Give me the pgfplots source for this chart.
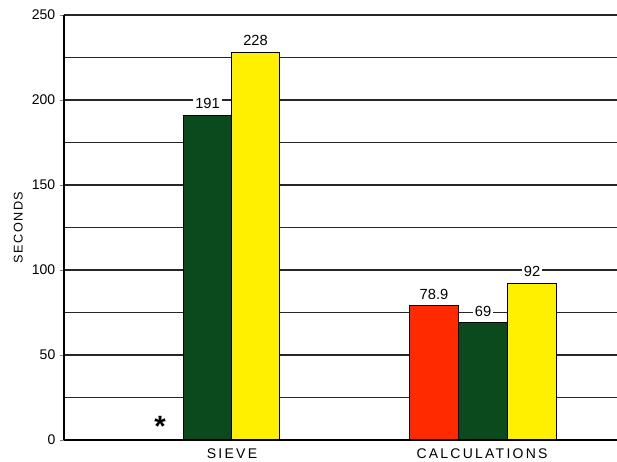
\documentclass[border=0pt]{standalone}
\usepackage{fontspec}
\setmainfont{Liberation Sans}
\setsansfont{Liberation Sans}
\usepackage{pgfplots}
\pgfplotsset{compat=1.18}
\definecolor{barred}{HTML}{FF2A00}
\definecolor{bargreen}{HTML}{0B4A1C}
\definecolor{baryellow}{HTML}{FFF000}
\begin{document}
\begin{tikzpicture}
\begin{axis}[
    scale only axis,
    width=414.75pt, height=318.75pt,
    xmin=64, xmax=617,
    ymin=0, ymax=250,
    axis x line=bottom, axis y line=left,
    axis line style={-, line width=1.2pt, black},
    xtick={232,482},
    xticklabels={SIEVE, CALCULATIONS},
    x tick style={draw=none},
    ytick={0,50,...,250},
    minor ytick={25,75,...,225},
    tick align=outside,
    major tick length=3pt,
    minor tick length=0pt,
    ymajorgrids, yminorgrids,
    major grid style={black!85, line width=1.2pt},
    minor grid style={black!85, line width=1.2pt},
    yticklabel style={font=\fontsize{10.5}{12}\selectfont},
    xticklabel style={font=\fontsize{10.5}{12}\selectfont\addfontfeatures{LetterSpace=16}},
    /pgf/number format/assume math mode=true,
    ylabel={SECONDS},
    ylabel style={font=\fontsize{9.5}{11}\selectfont\addfontfeatures{LetterSpace=12}},
    ybar, bar width=48.5, bar shift=0pt,
    nodes near coords,
    point meta=explicit symbolic,
    every node near coord/.append style={font=\fontsize{11}{12}\selectfont, fill=white, inner sep=1.5pt, yshift=3pt},
]
\addplot[fill=barred, draw=black, line width=0.8pt] coordinates {(434,78.9) [78.9]};
\addplot[fill=bargreen, draw=black, line width=0.8pt] coordinates {(207.5,191) [191] (483,69) [69]};
\addplot[fill=baryellow, draw=black, line width=0.8pt] coordinates {(255.5,228) [228] (532,92) [92]};
\node[font=\bfseries\fontsize{22}{22}\selectfont, inner sep=0pt] at (axis cs:160,8) {*};
\coordinate (ll) at (rel axis cs:0,0);
\coordinate (ur) at (rel axis cs:1,1);
\end{axis}
\pgfresetboundingbox
\path ([shift={(-48pt,-16.5pt)}]ll) rectangle ([shift={(0pt,11.25pt)}]ur);
\end{tikzpicture}
\end{document}
